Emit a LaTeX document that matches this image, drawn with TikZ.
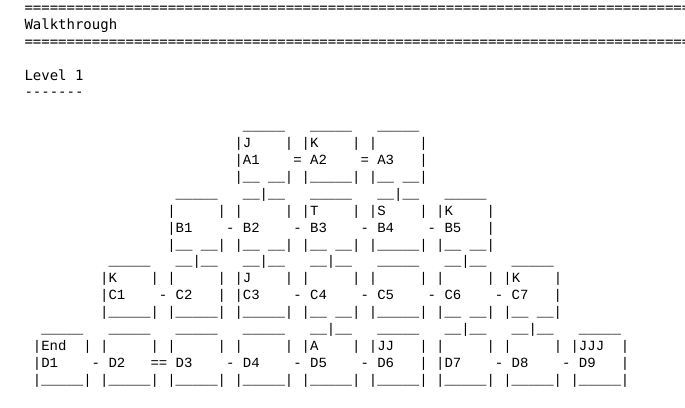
\documentclass[tikz,border=0pt]{standalone}
\usepackage{fontspec}
\setmonofont{DejaVu Sans Mono}
\newfontfamily\diagfont{Liberation Mono}
\newcommand\Ufive{\_\_\_\_\_}
\newcommand\Utee{\_\_|\_\_}
\newcommand\Ugap{\_\_~\_\_}
\tikzset{
  hdr/.style={anchor=base west,inner sep=0pt,outer sep=0pt,text=black,
    font=\ttfamily\fontsize{14}{16.9}\selectfont},
  dia/.style={anchor=base west,inner sep=0pt,outer sep=0pt,text=black,
    font=\diagfont\fontsize{14}{16.9}\selectfont}
}
\begin{document}
\begin{tikzpicture}[x=8.4pt,y=-16.9pt]
\useasboundingbox (-2.9167,-0.7337) rectangle (78.631,23.349);
\begin{scope}
\clip (-2.9167,-0.7337) rectangle (78.631,23.349);
% header
\node[hdr] (h0) at (0,0) {================================================================================};
\node[hdr] (h1) at (0,1) {Walkthrough};
\node[hdr] (h2) at (0,2) {================================================================================};
\node[hdr] (h4) at (0,4) {Level~1};
\node[hdr] (h5) at (0,5) {-------};
% row A
\node[dia] (l7)  at (26,7)  {\Ufive~~~\Ufive~~~\Ufive};
\node[dia] (l8)  at (25,8)  {|J~~~~|~|K~~~~|~|~~~~~|};
\node[dia] (l9)  at (25,9)  {|A1~~~~=~A2~~~~=~A3~~~|};
\node[dia] (l10) at (25,10) {|\Ugap|~|\Ufive|~|\Ugap|};
% row B
\node[dia] (l11) at (18,11) {\Ufive~~~\Utee~~~\Ufive~~~\Utee~~~\Ufive};
\node[dia] (l12) at (17,12) {|~~~~~|~|~~~~~|~|T~~~~|~|S~~~~|~|K~~~~|};
\node[dia] (l13) at (17,13) {|B1~~~~-~B2~~~~-~B3~~~~-~B4~~~~-~B5~~~|};
\node[dia] (l14) at (17,14) {|\Ugap|~|\Ugap|~|\Ugap|~|\Ufive|~|\Ugap|};
% row C
\node[dia] (l15) at (10,15) {\Ufive~~~\Utee~~~\Utee~~~\Utee~~~\Ufive~~~\Utee~~~\Ufive};
\node[dia] (l16) at (9,16)  {|K~~~~|~|~~~~~|~|J~~~~|~|~~~~~|~|~~~~~|~|~~~~~|~|K~~~~|};
\node[dia] (l17) at (9,17)  {|C1~~~~-~C2~~~|~|C3~~~~-~C4~~~~-~C5~~~~-~C6~~~~-~C7~~~|};
\node[dia] (l18) at (9,18)  {|\Ufive|~|\Ufive|~|\Ufive|~|\Ugap|~|\Ufive|~|\Ugap|~|\Ugap|};
% row D
\node[dia] (l19) at (2,19)  {\Ufive~~~\Ufive~~~\Ufive~~~\Ufive~~~\Utee~~~\Ufive~~~\Utee~~~\Utee~~~\Ufive};
\node[dia] (l20) at (1,20)  {|End~~|~|~~~~~|~|~~~~~|~|~~~~~|~|A~~~~|~|JJ~~~|~|~~~~~|~|~~~~~|~|JJJ~~|};
\node[dia] (l21) at (1,21)  {|D1~~~~-~D2~~~==~D3~~~~-~D4~~~~-~D5~~~~-~D6~~~|~|D7~~~~-~D8~~~~-~D9~~~|};
\node[dia] (l22) at (1,22)  {|\Ufive|~|\Ufive|~|\Ufive|~|\Ufive|~|\Ufive|~|\Ufive|~|\Ufive|~|\Ufive|~|\Ufive|};
\end{scope}
\end{tikzpicture}
\end{document}
